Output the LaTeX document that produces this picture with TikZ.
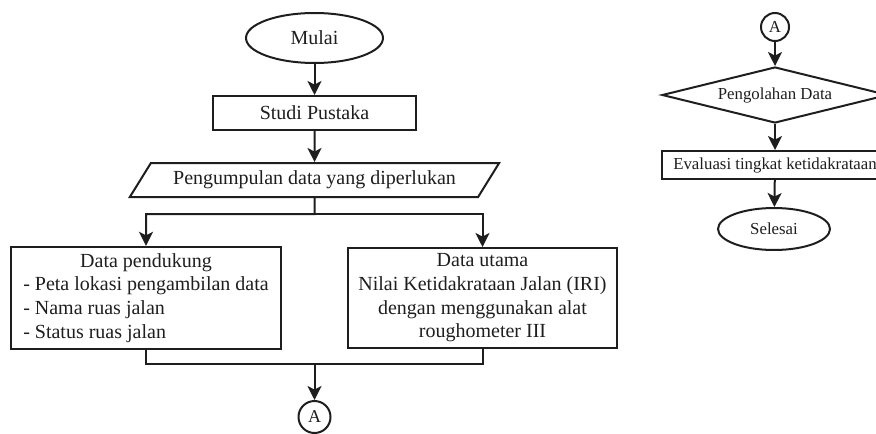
\documentclass[tikz,border=0pt]{standalone}
\usepackage{fontspec}
\setmainfont{Liberation Serif}
\usetikzlibrary{arrows.meta,shapes.geometric}
\definecolor{fcInk}{HTML}{1E1E1E}
\tikzset{
  fc line/.style={draw=fcInk, line width=1pt},
  fc arrow/.style={fc line, -{Stealth[length=7pt,width=7pt,inset=1.8pt]}},
  fc term/.style={ellipse, draw=fcInk, line width=1pt, inner sep=0pt},
  fc proc/.style={rectangle, draw=fcInk, line width=1pt, inner sep=2pt},
  fc io/.style={trapezium, trapezium left angle=45, trapezium right angle=135, trapezium stretches=true, draw=fcInk, line width=1pt, inner sep=0pt},
  fc dec/.style={diamond, shape aspect=4, draw=fcInk, line width=1pt, inner sep=0pt},
  fc conn/.style={circle, draw=fcInk, line width=1pt, inner sep=0pt},
  fc big/.style={font=\fontsize{10}{11.8}\selectfont, text=fcInk},
  fc small/.style={font=\fontsize{8.4}{10}\selectfont, text=fcInk},
}

\begin{document}
\begin{tikzpicture}[x=0.5pt,y=-0.5pt]
  \useasboundingbox (0,0) rectangle (876,433);
  % left column
  \node[fc term, fc big, minimum width=68.5pt, minimum height=25pt] (mulai) at (314.5,38) {Mulai};
  \node[fc proc, fc big, minimum width=101.5pt, minimum height=17pt] (studi) at (314.5,113) {Studi Pustaka};
  \node[fc io, fc big, minimum width=185pt, minimum height=17pt] (kumpul) at (314.5,180) {Pengumpulan data yang diperlukan};
  \node[fc proc, fc big, minimum width=135pt, minimum height=50pt] (pendukung) at (146,298)
    {\begin{tabular}{@{}l@{}}\multicolumn{1}{@{}c@{}}{Data pendukung}\\- Peta lokasi pengambilan data\\- Nama ruas jalan\\- Status ruas jalan\end{tabular}};
  \node[fc proc, fc big, align=center, minimum width=134.5pt, minimum height=50pt] (utama) at (482.5,298)
    {Data utama\\Nilai Ketidakrataan Jalan (IRI)\\dengan menggunakan alat\\roughometer III};
  \node[fc conn, fc big, font=\fontsize{9}{10}\selectfont, minimum size=16pt] (A1) at (314.5,417) {A};
  \coordinate (split) at (314.5,214);
  \coordinate (merge) at (314.5,364);

  \draw[fc arrow] (mulai) -- (studi);
  \draw[fc arrow] (studi) -- (kumpul);
  \draw[fc arrow] (kumpul.south) -- (split) -| (pendukung.north);
  \draw[fc arrow] (split) -| (utama.north);
  \draw[fc line] (pendukung.south) |- (merge) -| (utama.south);
  \draw[fc arrow] (merge) -- (A1);

  % right column
  \node[fc conn, fc small, minimum size=14pt] (A2) at (775,27) {A};
  \node[fc dec, fc small, minimum width=113pt, minimum height=28pt] (olah) at (775,95) {Pengolahan Data};
  \node[fc proc, fc small, minimum width=113pt, minimum height=14pt] (evaluasi) at (775,165) {Evaluasi tingkat ketidakrataan};
  \node[fc term, fc small, minimum width=56pt, minimum height=21pt] (selesai) at (774,229) {Selesai};

  \draw[fc arrow] (A2) -- (olah);
  \draw[fc arrow] (olah) -- (evaluasi);
  \draw[fc arrow] (evaluasi) -- (selesai);
\end{tikzpicture}
\end{document}
